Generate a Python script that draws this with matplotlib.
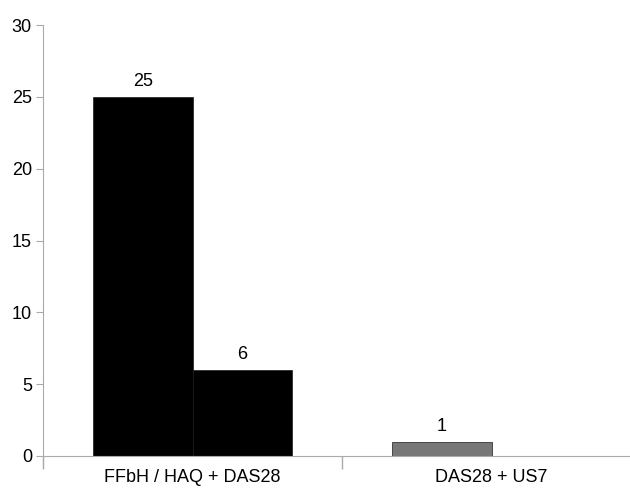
import matplotlib
matplotlib.use('Agg')
import matplotlib.pyplot as plt

categories = ['FFbH / HAQ + DAS28', 'DAS28 + US7']
left_vals = [25, 1]
right_vals = [6, 0]
left_colors = ['#000000', '#777777']
right_colors = ['#000000', '#000000']
yticks = [0, 5, 10, 15, 20, 25, 30]

plt.rcParams['font.family'] = ['Liberation Sans', 'DejaVu Sans']

fig = plt.figure(figsize=(6.3, 4.96), dpi=100)
ax = fig.add_axes([43 / 630, 40 / 496, 598 / 630, 431 / 496])

w = 1 / 3
xs = list(range(len(categories)))
ax.bar([x - w / 2 for x in xs], left_vals, width=w, color=left_colors,
       edgecolor='#1a1a1a', linewidth=0.5)
ax.bar([x + w / 2 for x in xs], right_vals, width=w, color=right_colors,
       edgecolor='#1a1a1a', linewidth=0.5)

for x, v in zip(xs, left_vals):
    if v:
        ax.annotate(str(v), (x - w / 2, v), xytext=(0, 5), textcoords='offset points',
                    ha='center', va='bottom', fontsize=13)
for x, v in zip(xs, right_vals):
    if v:
        ax.annotate(str(v), (x + w / 2, v), xytext=(0, 5), textcoords='offset points',
                    ha='center', va='bottom', fontsize=13)

ax.set_xlim(-0.5, len(categories) - 0.5)
ax.set_ylim(0, 30)
ax.set_yticks(yticks)
ax.set_xticks(xs)
ax.set_xticklabels(categories, fontsize=13)
ax.tick_params(axis='x', length=0, pad=9)
ax.set_xticks([x - 0.5 for x in range(len(categories) + 1)], minor=True)
ax.tick_params(axis='x', which='minor', length=9, color='#aaaaaa', width=1)
ax.tick_params(axis='y', length=5, color='#aaaaaa', labelsize=13, pad=3)

for s in ['top', 'right']:
    ax.spines[s].set_visible(False)
for s in ['left', 'bottom']:
    ax.spines[s].set_color('#aaaaaa')
ax.spines['left'].set_bounds(-0.6, 30)

fig.savefig('out.png', dpi=100)
